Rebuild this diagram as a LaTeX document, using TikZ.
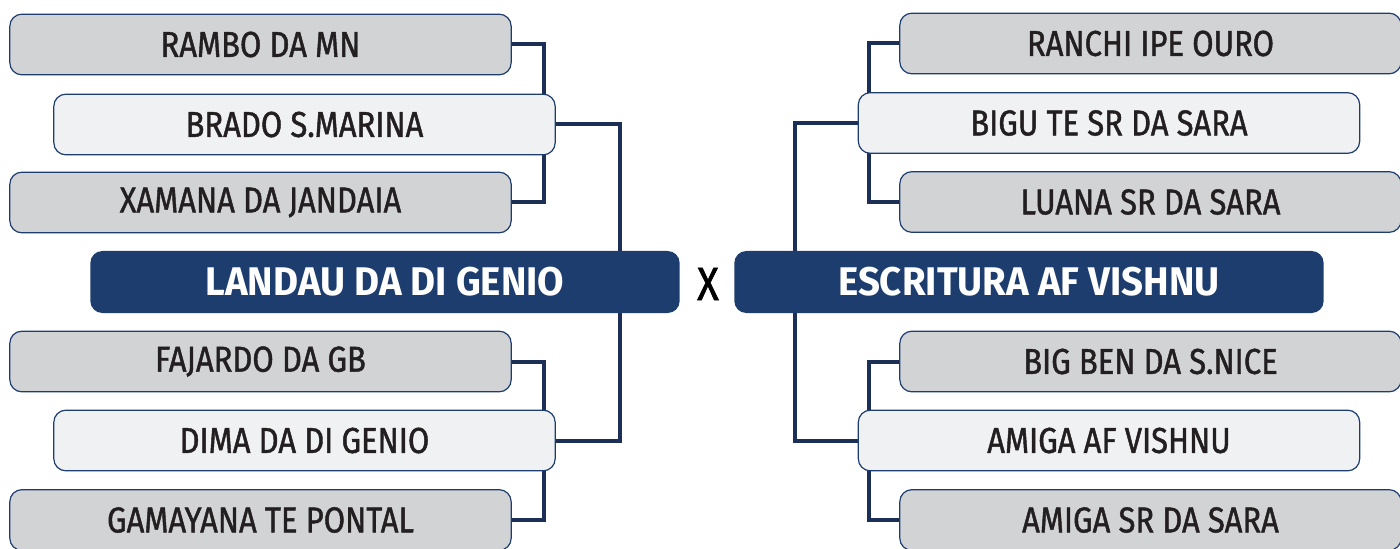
\documentclass[tikz,border=0pt]{standalone}
\usepackage{fontspec}
\setmainfont{Fira Sans}[FakeStretch=0.9]
\newfontfamily\teamfont{Fira Sans}[FakeStretch=0.86, FakeBold=1.2]
\newfontfamily\finalfont{Fira Sans Bold}[FakeStretch=0.96]
\usetikzlibrary{backgrounds}
\definecolor{navy}{HTML}{1E3D6F}
\definecolor{linenavy}{HTML}{1B2F57}
\definecolor{boxgray}{HTML}{D1D3D5}
\definecolor{boxlight}{HTML}{F0F1F3}
\definecolor{txt}{HTML}{231F20}
\tikzset{
  team/.style={draw=navy, line width=0.9pt, rounded corners=9pt, fill=boxgray,
    minimum width=376pt, minimum height=45.5pt, inner sep=0pt,
    text=txt, font=\fontsize{27}{31}\teamfont},
  winner/.style={team, fill=boxlight},
  finalist/.style={draw=none, rounded corners=9pt, fill=navy,
    minimum width=442pt, minimum height=46.5pt, inner sep=0pt,
    text=white, font=\fontsize{30}{34}\finalfont},
  link/.style={draw=linenavy, line width=3pt}
}
\begin{document}
\begin{tikzpicture}[x=0.75pt, y=-0.75pt]
\clip (0,0) rectangle (1400,549);
\useasboundingbox (0,0) rectangle (1400,549);
% left side
\node[team] (rambo) at (260.5,44.5){RAMBO DA MN};
\node[winner] (brado) at (304.5,124.5){BRADO S.MARINA};
\node[team] (xamana) at (260.5,202.5){XAMANA DA JANDAIA};
\node[finalist] (landau) at (385,282){LANDAU DA DI GENIO};
\node[team] (fajardo) at (260.5,361.5){FAJARDO DA GB};
\node[winner] (dima) at (304.5,440.5){DIMA DA DI GENIO};
\node[team] (gamayana) at (260.5,520){GAMAYANA TE PONTAL};
% right side
\node[team] (ranchi) at (1150.5,43.5){RANCHI IPE OURO};
\node[winner] (bigu) at (1109,123){BIGU TE SR DA SARA};
\node[team] (luana) at (1150.5,202){LUANA SR DA SARA};
\node[finalist] (escritura) at (1029,282){ESCRITURA AF VISHNU};
\node[team] (bigben) at (1150.5,361.5){BIG BEN DA S.NICE};
\node[winner] (amigaaf) at (1109,440.5){AMIGA AF VISHNU};
\node[team] (amigasr) at (1150.5,520){AMIGA SR DA SARA};
\node[text=black, font=\fontsize{35}{40}\teamfont] (versus) at (708,284){X};
\begin{scope}[on background layer]
\draw[link](rambo.east) -- ++(32,0) |- (xamana.east);
\draw[link](fajardo.east) -- ++(32,0) |- (gamayana.east);
\draw[link](brado.east) -- ++(64,0) |- (landau.center);
\draw[link](dima.east) -- ++(64,0) |- (landau.center);
\draw[link](ranchi.west) -- ++(-30,0) |- (luana.west);
\draw[link](bigben.west) -- ++(-30,0) |- (amigasr.west);
\draw[link](bigu.west) -- ++(-63,0) |- (escritura.center);
\draw[link](amigaaf.west) -- ++(-63,0) |- (escritura.center);
\end{scope}

\end{tikzpicture}
\end{document}
